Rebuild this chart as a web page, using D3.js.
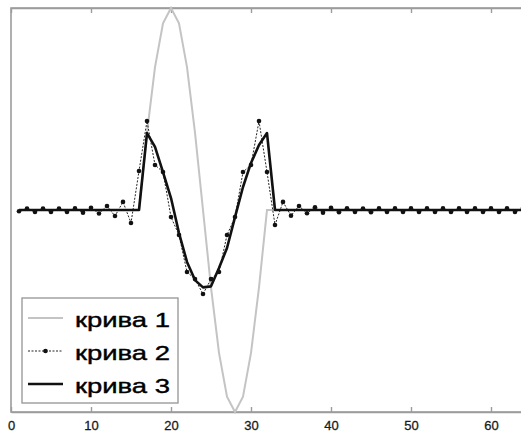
<!DOCTYPE html>
<html>
<head>
<meta charset="utf-8">
<script src="https://cdn.jsdelivr.net/npm/d3@7"></script>
<style>
  body { margin: 0; background: #fff; }
  svg { display: block; }
</style>
</head>
<body>
<div id="chart"></div>
<script>
// sample index (1..64)
const xIdx = [1,2,3,4,5,6,7,8,9,10,11,12,13,14,15,16,17,18,19,20,21,22,23,24,25,26,27,28,29,30,31,32,
              33,34,35,36,37,38,39,40,41,42,43,44,45,46,47,48,49,50,51,52,53,54,55,56,57,58,59,60,61,62,63,64];

// curve 1: single sine period
const curve1 = [0,0,0,0,0,0,0,0,0,0,0,0,0,0,0,0,
  0.383,0.707,0.924,1,0.924,0.707,0.383,0,-0.383,-0.707,-0.924,-1,-0.924,-0.707,-0.383,0,
  0,0,0,0,0,0,0,0,0,0,0,0,0,0,0,0,0,0,0,0,0,0,0,0,0,0,0,0,0,0,0,0];

// curve 2: reconstruction with ringing
const curve2 = [-0.006,0.007,-0.010,0.007,-0.010,0.007,-0.010,0.008,-0.013,0.011,-0.017,0.020,-0.030,0.040,-0.064,0.193,
  0.44,0.223,0.188,-0.035,-0.124,-0.307,-0.342,-0.416,-0.342,-0.307,-0.124,-0.035,0.188,0.223,0.44,0.188,
  -0.074,0.040,-0.028,0.020,-0.016,0.013,-0.013,0.011,-0.011,0.009,-0.010,0.007,-0.011,0.008,-0.010,0.008,
  -0.010,0.008,-0.010,0.008,-0.010,0.008,-0.010,0.008,-0.010,0.008,-0.010,0.008,-0.010,0.008,-0.010,0.008];

// curve 3: smoothed
const curve3 = [0,0,0,0,0,0,0,0,0,0,0,0,0,0,0,0,
  0.381,0.312,0.188,0.059,-0.114,-0.257,-0.347,-0.383,-0.378,-0.287,-0.188,-0.035,0.114,0.233,0.322,0.381,
  0,0,0,0,0,0,0,0,0,0,0,0,0,0,0,0,0,0,0,0,0,0,0,0,0,0,0,0,0,0,0,0];

const xTicks = [0,10,20,30,40,50,60];
const legendLabels = ["крива 1", "крива 2", "крива 3"];

const width = 521, height = 434;
const svg = d3.select("#chart").append("svg")
    .attr("width", width)
    .attr("height", height);

const x = d3.scaleLinear().domain([0, 64]).range([11, 523]);
const y = d3.scaleLinear().domain([-1, 1]).range([412, 8]);

const axisColor = "#9c9c9c";

// frame
svg.append("rect")
    .attr("x", x(0)).attr("y", y(1))
    .attr("width", x(64) - x(0)).attr("height", y(-1) - y(1))
    .attr("fill", "none")
    .attr("stroke", axisColor)
    .attr("stroke-width", 1.6);

// bottom axis with inner ticks
const bottomAxis = svg.append("g")
    .attr("transform", `translate(0,${y(-1)})`)
    .call(d3.axisBottom(x).tickValues(xTicks).tickSizeInner(-5).tickSizeOuter(0).tickPadding(9));
bottomAxis.select(".domain").attr("stroke", axisColor).attr("stroke-width", 1.6);
bottomAxis.selectAll(".tick line").attr("stroke", axisColor).attr("stroke-width", 1.4);
bottomAxis.selectAll(".tick text")
    .attr("fill", "#1a1a1a")
    .attr("stroke", "#1a1a1a")
    .attr("stroke-width", 0.3)
    .style("font-family", "Arial, 'Liberation Sans', sans-serif")
    .style("font-size", "13px");

// top axis ticks
const topAxis = svg.append("g")
    .attr("transform", `translate(0,${y(1)})`)
    .call(d3.axisTop(x).tickValues(xTicks).tickSizeInner(-5).tickSizeOuter(0).tickFormat(""));
topAxis.select(".domain").attr("stroke", axisColor).attr("stroke-width", 1.6);
topAxis.selectAll(".tick line").attr("stroke", axisColor).attr("stroke-width", 1.4);

const line = d3.line()
    .x((d, i) => x(xIdx[i]))
    .y(d => y(d));

// curve 1
svg.append("path")
    .datum(curve1)
    .attr("d", line)
    .attr("fill", "none")
    .attr("stroke", "#c4c4c4")
    .attr("stroke-width", 2);

// curve 2
svg.append("path")
    .datum(curve2)
    .attr("d", line)
    .attr("fill", "none")
    .attr("stroke", "#222")
    .attr("stroke-width", 1)
    .attr("stroke-dasharray", "2,1.5");

svg.append("g")
    .selectAll("circle")
    .data(curve2)
    .join("circle")
    .attr("cx", (d, i) => x(xIdx[i]))
    .attr("cy", d => y(d))
    .attr("r", 2.3)
    .attr("fill", "#111");

// curve 3
svg.append("path")
    .datum(curve3)
    .attr("d", line)
    .attr("fill", "none")
    .attr("stroke", "#111")
    .attr("stroke-width", 2.6)
    .attr("stroke-linejoin", "round");

// legend
const legend = svg.append("g");
legend.append("rect")
    .attr("x", 22).attr("y", 298)
    .attr("width", 156).attr("height", 105)
    .attr("fill", "#fff")
    .attr("stroke", axisColor)
    .attr("stroke-width", 1.4);

const rowY = [318, 351, 384];
const rows = legend.selectAll(".row")
    .data(legendLabels)
    .join("g")
    .attr("class", "row")
    .attr("transform", (d, i) => `translate(0,${rowY[i]})`);

rows.append("line")
    .attr("x1", 28).attr("x2", 63)
    .attr("y1", 0).attr("y2", 0)
    .attr("stroke", (d, i) => ["#c4c4c4", "#222", "#111"][i])
    .attr("stroke-width", (d, i) => [2, 1, 2.6][i])
    .attr("stroke-dasharray", (d, i) => i === 1 ? "2,1.5" : null);

rows.filter((d, i) => i === 1)
    .append("circle")
    .attr("cx", 45.5).attr("cy", 0).attr("r", 2.3)
    .attr("fill", "#111");

rows.append("text")
    .attr("x", 75)
    .attr("y", 9)
    .attr("textLength", 95)
    .attr("lengthAdjust", "spacingAndGlyphs")
    .attr("fill", "#000")
    .attr("stroke", "#000")
    .attr("stroke-width", 0.4)
    .style("font-family", "Arial, 'Liberation Sans', sans-serif")
    .style("font-size", "21px")
    .text(d => d);
</script>
</body>
</html>
